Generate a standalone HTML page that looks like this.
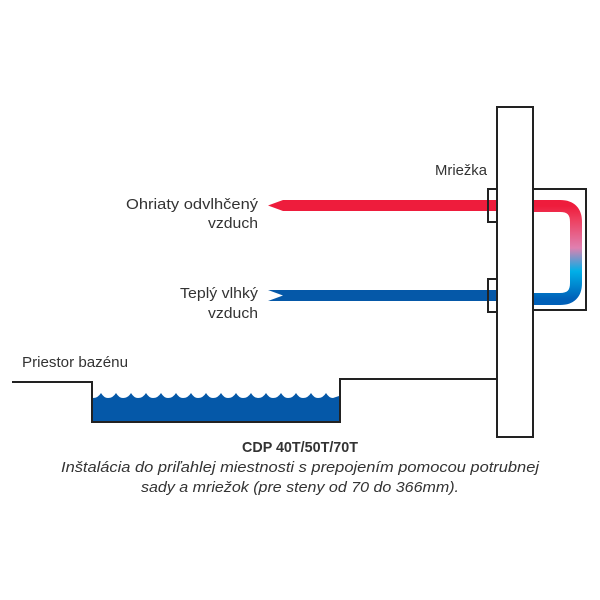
<!DOCTYPE html>
<html><head><meta charset="utf-8"><style>
html,body{margin:0;padding:0;background:#fff}
svg{display:block}
text{font-family:"Liberation Sans",sans-serif;fill:#333}
</style></head><body>
<svg width="600" height="600" viewBox="0 0 600 600" xmlns="http://www.w3.org/2000/svg">
<defs>
<linearGradient id="g" x1="0" y1="0" x2="0" y2="1">
<stop offset="0" stop-color="#ee1c3c"/>
<stop offset="0.15" stop-color="#ee4060"/>
<stop offset="0.45" stop-color="#e080b0"/>
<stop offset="0.7" stop-color="#00b0e8"/>
<stop offset="1" stop-color="#0060b8"/>
</linearGradient>
</defs>
<!-- water -->
<path d="M93,422 L93,398 q5,0 8,-5 q3,5 7,5 q5,0 8,-5 q3,5 7,5 q5,0 8,-5 q3,5 7,5 q5,0 8,-5 q3,5 7,5 q5,0 8,-5 q3,5 7,5 q5,0 8,-5 q3,5 7,5 q5,0 8,-5 q3,5 7,5 q5,0 8,-5 q3,5 7,5 q5,0 8,-5 q3,5 7,5 q5,0 8,-5 q3,5 7,5 q5,0 8,-5 q3,5 7,5 q5,0 8,-5 q3,5 7,5 q5,0 8,-5 q3,5 7,5 q5,0 8,-5 q3,5 7,5 q5,0 8,-5 q3,5 7,5 q5,0 8,-5 q3,5 7,5 L339,396 L339,422 Z" fill="#0558a8"/>
<!-- pool outline -->
<polyline points="12,382 92,382 92,422 340,422 340,379 497,379" fill="none" stroke="#222" stroke-width="2"/>
<!-- wall -->
<rect x="497" y="107" width="36" height="330" fill="#fff" stroke="#222" stroke-width="2"/>
<!-- right box -->
<rect x="533" y="189" width="53" height="121" fill="#fff" stroke="#222" stroke-width="2"/>
<!-- U tube -->
<path d="M534,206 L560,206 Q576,206 576,222 L576,283 Q576,299 560,299 L534,299" fill="none" stroke="url(#g)" stroke-width="12"/>
<!-- arrows -->
<polygon points="268,205.5 283,200 497,200 497,211 283,211" fill="#ee1c3c"/>
<polygon points="268,290 497,290 497,301 268,301 283,295.5" fill="#0558a8"/>
<!-- grilles -->
<rect x="488" y="189" width="9" height="33" fill="none" stroke="#222" stroke-width="2"/>
<rect x="488" y="279" width="9" height="33" fill="none" stroke="#222" stroke-width="2"/>
<!-- labels -->
<text x="435" y="175" font-size="15" textLength="52" lengthAdjust="spacingAndGlyphs">Mriežka</text>
<text x="126" y="209" font-size="15" textLength="132" lengthAdjust="spacingAndGlyphs">Ohriaty odvlhčený</text>
<text x="208" y="228" font-size="15" textLength="50" lengthAdjust="spacingAndGlyphs">vzduch</text>
<text x="180" y="298" font-size="15" textLength="78" lengthAdjust="spacingAndGlyphs">Teplý vlhký</text>
<text x="208" y="318" font-size="15" textLength="50" lengthAdjust="spacingAndGlyphs">vzduch</text>
<text x="22" y="367" font-size="15" textLength="106" lengthAdjust="spacingAndGlyphs">Priestor bazénu</text>
<text x="300" y="452" font-size="15" font-weight="bold" text-anchor="middle" textLength="116" lengthAdjust="spacingAndGlyphs">CDP 40T/50T/70T</text>
<text x="300" y="472" font-size="15" font-style="italic" text-anchor="middle" textLength="478" lengthAdjust="spacingAndGlyphs">Inštalácia do priľahlej miestnosti s prepojením pomocou potrubnej</text>
<text x="300" y="492" font-size="15" font-style="italic" text-anchor="middle" textLength="318" lengthAdjust="spacingAndGlyphs">sady a mriežok (pre steny od 70 do 366mm).</text>
</svg>
</body></html>
